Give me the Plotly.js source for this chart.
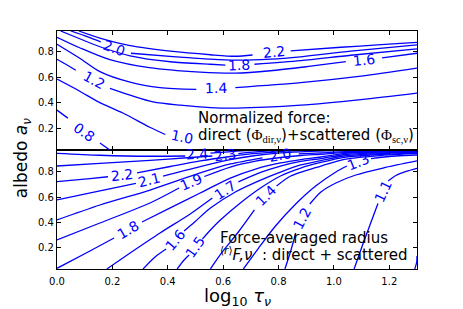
<!DOCTYPE html>
<html><head><meta charset="utf-8">
<script src="https://cdn.plot.ly/plotly-3.0.1.min.js"></script>
<style>html,body{margin:0;padding:0;background:#fff;} #chart{width:463px;height:309px;}</style>
</head><body><div id="chart"></div>
<script>
// ---------- data ----------
const xTicks = [0.0, 0.2, 0.4, 0.6, 0.8, 1.0, 1.2];
const yTicks = [0.2, 0.4, 0.6, 0.8];

// Top panel: normalized force contours (null = gap where the label sits)
const forceLevels = ['2.2', '2.0', '1.8', '1.6', '1.4', '1.2', '1.0', '0.8'];
const forceX = [
  [0.079,0.155,0.264,0.409,0.554,0.644,0.706,null,0.844,1.025,1.170,1.3],
  [0.050,0.111,0.158,null,0.267,0.430,0.554,0.644,0.771,0.880,1.061,1.3],
  [0.013,0.082,0.155,0.264,0.409,0.554,0.608,null,0.713,0.880,1.061,1.3],
  [0,0.082,0.191,0.333,0.517,0.644,0.771,0.916,1.043,null,1.174,1.3],
  [0,0.082,0.155,0.264,0.372,0.503,null,0.644,0.880,1.098,1.3],
  [0,0.032,0.068,null,0.191,0.264,0.347,0.445,0.554,0.648,0.880,1.098,1.3],
  [0,0.082,0.151,0.238,0.333,0.391],
  [0,0.039,null,0.155,0.191]
];
const forceY = [
  [0.965,0.908,0.849,0.806,0.778,0.766,0.776,null,0.808,0.837,0.857,0.876],
  [0.965,0.919,0.880,null,0.790,0.762,0.743,0.735,0.743,0.762,0.806,0.855],
  [0.965,0.904,0.841,0.770,0.723,0.703,0.697,null,0.703,0.731,0.774,0.824],
  [0.916,0.833,0.739,0.676,0.641,0.633,0.652,0.688,0.723,null,0.754,0.790],
  [0.861,0.751,0.645,0.562,0.519,0.505,null,0.519,0.558,0.609,0.672],
  [0.743,0.703,0.656,null,0.513,0.460,0.407,0.381,0.362,0.358,0.381,0.425,0.476],
  [0.586,0.491,0.405,0.319,0.209,0.150],
  [0.342,0.279,null,0.083,0.028]
];
const forceLabelX = [0.782, 0.206, 0.659, 1.108, 0.575, 0.133, 0.452, 0.097];
const forceLabelY = [0.800, 0.830, 0.696, 0.737, 0.520, 0.578, 0.130, 0.169];
const forceLabelAngle = [-6, 20, -2, -6, -1, 28, 12, 35];

// Bottom panel: force-averaged radius contours
const radiusLevels = ['2.4','2.3','2.2','2.1','2.0','1.9','1.8','1.7','1.6','1.5','1.4','1.3','1.2','1.1','1.0'];
const radiusX = [
  [0,0.155,0.336,0.463,null,0.554,0.619,0.681,0.717],
  [0,0.155,0.336,0.481,0.561,null,0.655,0.717,0.789,0.844],
  [0,0.119,0.184,null,0.289,0.409,0.517,0.626,0.717,0.807,0.898,0.953],
  [0,0.155,0.285,null,0.383,0.517,0.626,0.717,0.807,0.916,1.025,1.134],
  [0,0.155,0.336,0.517,0.626,0.742,null,0.873,0.953,1.043,1.170,1.3],
  [0,0.155,0.336,0.441,null,0.532,0.626,0.717,0.807,0.880,0.953,1.043,1.170,1.3],
  [0,0.119,0.206,null,0.307,0.409,0.517,0.626,0.717,0.807,0.880,0.953,1.043,1.170,1.3],
  [0.180,0.264,0.372,0.481,0.561,null,0.655,0.735,0.807,0.880,0.953,1.043,1.170,1.3],
  [0.311,0.354,0.394,null,0.459,0.499,0.554,0.644,0.735,0.807,0.880,0.953,1.043,1.170,1.3],
  [0.434,0.459,0.477,null,0.525,0.554,0.590,0.662,0.735,0.807,0.880,0.953,1.043,1.170,1.3],
  [0.554,0.597,0.655,0.713,null,0.793,0.844,0.953,1.043,1.170,1.3],
  [0.673,0.728,0.789,0.862,0.934,1.007,1.047,null,1.134,1.224,1.3],
  [0.823,0.844,0.862,null,0.913,0.953,1.007,1.079,1.177,1.3],
  [1.073,1.110,1.159,null,1.196,1.224,1.261,1.3],
  [1.292,1.299,1.3]
];
const radiusY = [
  [0.945,0.930,0.922,0.924,null,0.946,0.957,0.967,0.971],
  [0.845,0.865,0.890,0.912,0.924,null,0.943,0.956,0.967,0.971],
  [0.721,0.745,0.760,null,0.791,0.841,0.885,0.920,0.944,0.959,0.968,0.971],
  [0.577,0.648,0.707,null,0.766,0.841,0.896,0.928,0.948,0.960,0.967,0.971],
  [0.419,0.537,0.655,0.790,0.861,0.910,null,0.941,0.948,0.959,0.964,0.968],
  [0.261,0.395,0.553,0.671,null,0.762,0.837,0.884,0.912,0.928,0.938,0.952,0.960,0.964],
  [0.037,0.174,0.276,null,0.403,0.514,0.632,0.750,0.821,0.869,0.896,0.916,0.945,0.955,0.961],
  [0.032,0.158,0.316,0.466,0.592,null,0.719,0.794,0.845,0.881,0.904,0.936,0.949,0.958],
  [0.032,0.126,0.189,null,0.332,0.407,0.513,0.640,0.734,0.797,0.853,0.888,0.926,0.943,0.954],
  [0.032,0.103,0.142,null,0.268,0.340,0.419,0.553,0.671,0.766,0.829,0.873,0.915,0.936,0.949],
  [0.032,0.166,0.324,0.498,null,0.687,0.766,0.845,0.900,0.928,0.944],
  [0.032,0.197,0.371,0.545,0.687,0.798,0.845,null,0.904,0.924,0.932],
  [0.032,0.174,0.316,null,0.545,0.640,0.711,0.774,0.829,0.885],
  [0.032,0.261,0.549,null,0.727,0.770,0.802,0.827],
  [0.032,0.087,0.135]
];
const radiusLabelX = [0.507, 0.608, 0.235, 0.332, 0.807, 0.485, 0.256, 0.608, 0.427, 0.499, 0.753, 1.087, 0.886, 1.176, null];
const radiusLabelY = [0.937, 0.932, 0.774, 0.734, 0.932, 0.719, 0.339, 0.655, 0.261, 0.205, 0.608, 0.879, 0.432, 0.642, null];
const radiusLabelAngle = [-3, -8, -6, -14, -10, -23, -30, -33, -50, -55, -45, -22, -62, -65, 0];

// ---------- build ----------
const BLUE = '#0000ff';
const traces = [];
forceLevels.forEach((lv, i) => {
  traces.push({type:'scatter', mode:'lines', x: forceX[i], y: forceY[i], xaxis:'x2', yaxis:'y2',
    line:{color:BLUE, width:1.3, shape:'spline', smoothing:0.8}, connectgaps:false, hoverinfo:'skip', name: lv});
});
radiusLevels.forEach((lv, i) => {
  traces.push({type:'scatter', mode:'lines', x: radiusX[i], y: radiusY[i], xaxis:'x', yaxis:'y',
    line:{color:BLUE, width:1.3, shape:'spline', smoothing:0.8}, connectgaps:false, hoverinfo:'skip', name: lv});
});

const ann = [];
forceLevels.forEach((lv, i) => {
  ann.push({x: forceLabelX[i], y: forceLabelY[i], xref:'x2', yref:'y2', text: lv, showarrow:false,
    textangle: forceLabelAngle[i], font:{family:'DejaVu Sans', size:14, color:BLUE}});
});
radiusLevels.forEach((lv, i) => {
  if (radiusLabelX[i] === null) return;
  ann.push({x: radiusLabelX[i], y: radiusLabelY[i], xref:'x', yref:'y', text: lv, showarrow:false,
    textangle: radiusLabelAngle[i], font:{family:'DejaVu Sans', size:14, color:BLUE}});
});
const serif = 'font-family:Liberation Serif';
ann.push({xref:'paper', yref:'paper', x:0.386, y:0.634, xanchor:'left', yanchor:'middle', showarrow:false,
  text:'Normalized force:', font:{family:'DejaVu Sans', size:15, color:'#000'}});
ann.push({xref:'paper', yref:'paper', x:0.386, y:0.563, xanchor:'left', yanchor:'middle', showarrow:false,
  text:'direct (<span style="'+serif+'">Φ<sub>dir,ν</sub></span>)+scattered (<span style="'+serif+'">Φ<sub>sc,ν</sub></span>)',
  font:{family:'DejaVu Sans', size:15, color:'#000'}});
ann.push({xref:'paper', yref:'paper', x:0.446, y:0.132, xanchor:'left', yanchor:'middle', showarrow:false,
  text:'Force-averaged radius', font:{family:'DejaVu Sans', size:15, color:'#000'}});
ann.push({xref:'paper', yref:'paper', x:0.446, y:0.063, xanchor:'left', yanchor:'middle', showarrow:false,
  text:'<sup>⟨<i>r</i>⟩</sup><i>F,ν</i>  : direct + scattered', font:{family:'DejaVu Sans', size:15, color:'#000'}});
ann.push({xref:'paper', yref:'paper', x:0.5, y:-0.116, xanchor:'center', yanchor:'middle', showarrow:false,
  text:'log<sub>10</sub> <i>τ</i><sub><i>ν</i></sub>', font:{family:'DejaVu Sans', size:18, color:'#000'}});
ann.push({xref:'paper', yref:'paper', x:-0.097, y:0.466, xanchor:'center', yanchor:'middle', showarrow:false,
  textangle:-90, text:'albedo <i>a</i><sub><i>ν</i></sub>', font:{family:'DejaVu Sans', size:17, color:'#000'}});

const axBase = {ticks:'inside', ticklen:4, tickwidth:1, tickcolor:'#000', showline:true, linecolor:'#000',
  linewidth:1.2, mirror:'allticks', showgrid:false, zeroline:false, tickfont:{family:'DejaVu Sans', size:10, color:'#000'}};
const layout = {
  width:463, height:309, margin:{l:57, r:46, t:31, b:40},
  paper_bgcolor:'#fff', plot_bgcolor:'#fff', showlegend:false, hovermode:false,
  font:{family:'DejaVu Sans', size:10, color:'#000'},
  xaxis: Object.assign({}, axBase, {domain:[0,1], range:[0,1.3], anchor:'y', tickvals:xTicks, ticktext:xTicks.map(v=>v.toFixed(1)), ticklabelstandoff:3}),
  xaxis2: Object.assign({}, axBase, {domain:[0,1], range:[0,1.3], anchor:'y2', tickvals:xTicks, showticklabels:false}),
  yaxis: Object.assign({}, axBase, {domain:[0,0.5], range:[0.0316,0.9714], anchor:'x', tickvals:yTicks, ticktext:yTicks.map(v=>v.toFixed(1))}),
  yaxis2: Object.assign({}, axBase, {domain:[0.5,1], range:[0.028,0.965], anchor:'x2', tickvals:yTicks, ticktext:yTicks.map(v=>v.toFixed(1))}),
  annotations: ann
};
Plotly.newPlot('chart', traces, layout, {staticPlot:true, displayModeBar:false});
</script>
</body></html>
